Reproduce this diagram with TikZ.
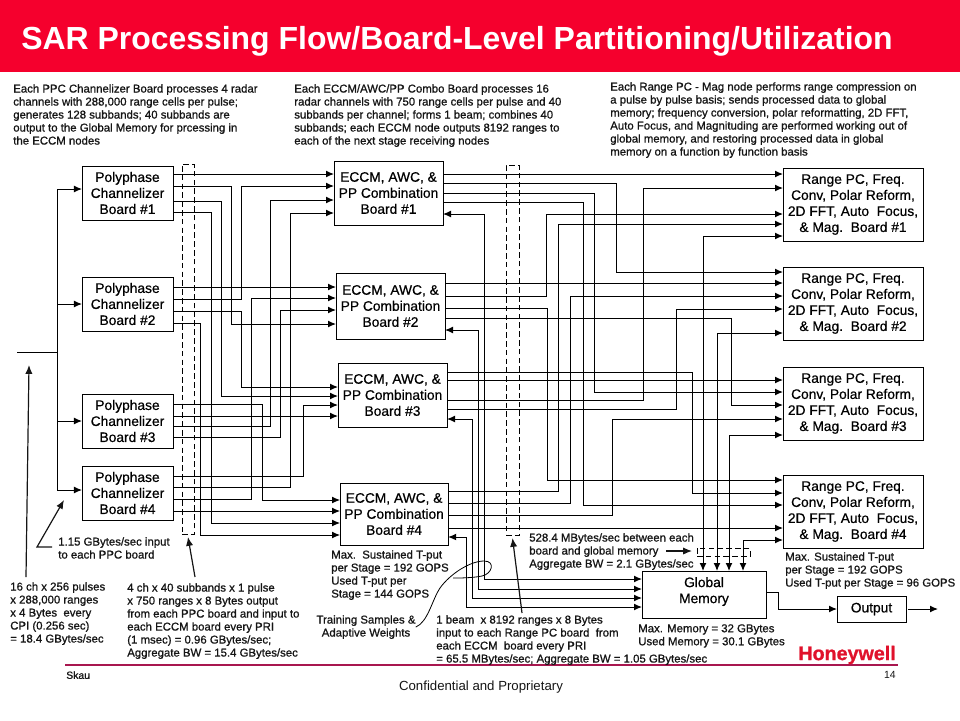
\documentclass[tikz,border=0pt]{standalone}
\usepackage{fontspec}
\usepackage{xcolor}
\usetikzlibrary{arrows.meta,positioning,calc}
\setmainfont{Liberation Sans}
\newfontfamily\heavyfont[FakeBold=0.9]{Liberation Sans}
\newfontfamily\mediumfont[FakeBold=0.5]{Liberation Sans}
\definecolor{ink}{HTML}{000000}
\definecolor{bannerred}{HTML}{F5002D}
\definecolor{rulered}{HTML}{A8174F}
\definecolor{logored}{HTML}{E0112B}
\definecolor{notegray}{HTML}{151515}
\newcommand{\notefont}{\heavyfont\fontsize{8.1}{9.25}\selectfont}
\newcommand{\boxfont}{\mediumfont\fontsize{9.8}{11.4}\selectfont}
\tikzset{
  box/.style={draw=ink, line width=0.25mm, fill=white, align=center, inner sep=0pt, outer sep=0pt, font=\boxfont},
  ppcbox/.style={box, minimum width=22.75mm, minimum height=13.5mm},
  eccmbox/.style={box, minimum width=27.25mm, minimum height=16mm},
  rangebox/.style={box, minimum width=35mm, minimum height=18.25mm},
  busbox/.style={draw=ink, line width=0.2mm, dash pattern=on 1.4mm off 0.8mm, inner sep=0pt, outer sep=0pt},
  notelabel/.style={font=\notefont, text=notegray, align=left, inner sep=0pt, anchor=north west},
  wire/.style={draw=ink, line width=0.25mm},
  arrow/.style={-{Latex[length=2mm,width=1.7mm]}, line width=0.25mm, draw=ink},
  biarrow/.style={{Latex[length=2mm,width=1.7mm]}-{Latex[length=2mm,width=1.7mm]}, line width=0.25mm, draw=ink},
  notearrow/.style={-{Latex[length=2.2mm,width=1.8mm]}, line width=0.3mm, draw=notegray}
}
\begin{document}
\begin{tikzpicture}[x=0.25mm,y=-0.25mm]
\useasboundingbox (0,0) rectangle (960,720);
% banner and footer
\fill[bannerred] (0,0) rectangle (960,72);
\node[anchor=west, inner sep=0pt, text=white, font=\fontsize{22.72}{26}\selectfont\bfseries] (ttl) at (21,41) {SAR Processing Flow/Board-Level Partitioning/Utilization};
\draw[rulered, line width=0.35mm] (65,665) -- (898,665);
\node[anchor=east, inner sep=0pt, text=logored, font=\fontsize{14}{15}\selectfont\heavyfont\bfseries] (logo) at (896,655) {Honeywell};
\node[notelabel, font=\heavyfont\fontsize{7.4}{9}\selectfont] (skau) at (66,671) {Skau};
\node[notelabel, anchor=north east, font=\fontsize{7.4}{9}\selectfont] (pageno) at (896,671) {14};
\node[inner sep=0pt, font=\fontsize{9.4}{10}\selectfont, text=notegray] (conf) at (481,687) {Confidential and Proprietary};
% notes along the top
\node[notelabel] (ppcnote) at (13,84) {Each PPC Channelizer Board processes 4 radar\\channels with 288,000 range cells per pulse;\\generates 128 subbands; 40 subbands are\\output to the Global  Memory for prcessing in\\the ECCM nodes};
\node[notelabel] (eccmnote) at (294,84) {Each ECCM/AWC/PP Combo Board processes 16\\radar channels with 750 range cells per pulse and 40\\subbands per channel; forms 1 beam; combines 40\\subbands; each ECCM node outputs 8192 ranges to\\each of the next stage receiving nodes};
\node[notelabel] (rangenote) at (610,82) {Each Range PC - Mag node performs range compression on\\a pulse by pulse basis; sends processed data to global\\memory; frequency conversion, polar reformatting, 2D FFT,\\Auto Focus, and Magnituding are performed working out of\\global memory, and restoring processed data in global\\memory on a function by function basis};
% boards
\node[ppcbox] (ppc1) at (127.5,193) {Polyphase\\Channelizer\\Board \#1};
\node[ppcbox, below=14.25mm of ppc1] (ppc2) {Polyphase\\Channelizer\\Board \#2};
\node[ppcbox, below=15.75mm of ppc2] (ppc3) {Polyphase\\Channelizer\\Board \#3};
\node[ppcbox, below=4.5mm of ppc3] (ppc4) {Polyphase\\Channelizer\\Board \#4};
\node[eccmbox] (eccm1) at (388.5,193) {ECCM, AWC, \&\\PP Combination\\Board \#1};
\node[eccmbox, below=12mm of eccm1, xshift=0.5mm, minimum height=16.5mm] (eccm2) {ECCM, AWC, \&\\PP Combination\\Board \#2};
\node[eccmbox, below=6mm of eccm2, xshift=0.5mm] (eccm3) {ECCM, AWC, \&\\PP Combination\\Board \#3};
\node[eccmbox, below=14mm of eccm3, xshift=0.4mm, minimum width=27mm, minimum height=15.5mm] (eccm4) {ECCM, AWC, \&\\PP Combination\\Board \#4};
\node[rangebox] (range1) at (853,204.5) {Range PC, Freq.\\Conv, Polar Reform,\\2D FFT, Auto\ \ Focus,\\\& Mag.\ \ Board \#1};
\node[rangebox, below=6.5mm of range1] (range2) {Range PC, Freq.\\Conv, Polar Reform,\\2D FFT, Auto\ \ Focus,\\\& Mag.\ \ Board \#2};
\node[rangebox, below=6.75mm of range2] (range3) {Range PC, Freq.\\Conv, Polar Reform,\\2D FFT, Auto\ \ Focus,\\\& Mag.\ \ Board \#3};
\node[rangebox, below=8.75mm of range3] (range4) {Range PC, Freq.\\Conv, Polar Reform,\\2D FFT, Auto\ \ Focus,\\\& Mag.\ \ Board \#4};
\node[box, minimum width=31mm, minimum height=11.75mm, text depth=2.2mm] (global) at (704,594.5) {Global\\Memory};
\node[box, minimum width=17.25mm, minimum height=6.5mm] (output) at (871.5,609) {Output};
% dashed bus outlines
\node[busbox, minimum width=3mm, minimum height=92.5mm] (bus1) at (188,349) {};
\node[busbox, minimum width=3.25mm, minimum height=92.5mm] (bus2) at (512.5,350) {};
\node[busbox, minimum width=13.25mm, minimum height=2mm] (bus3) at (723.5,552) {};
% input feed
\coordinate (inp) at (17,352);
\coordinate (split) at (57,352);
\draw[wire] (inp) -- (split);
\foreach \dst/\y in {ppc1/189,ppc2/304,ppc3/421,ppc4/490}
  \draw[arrow] (split) |- (\dst.west |- 0,\y);
% straight runs
\foreach \src/\dst/\y in {ppc1/eccm1/174,ppc2/eccm2/287,ppc3/eccm3/416,ppc4/eccm4/511,
    eccm1/range1/174,eccm2/range2/283,eccm3/range3/380,eccm4/range4/528}
  \draw[arrow] (\src.east |- 0,\y) -- (\dst.west |- 0,\y);
% crossing runs, board to board
\foreach \src/\ya/\vx/\dst/\yb in {ppc1/186/231/eccm2/324,ppc1/201/221/eccm3/396,ppc1/212/211/eccm4/523,
    ppc2/299/241/eccm1/186,ppc2/311/241/eccm3/387,ppc2/323/200/eccm4/535,
    ppc3/404/262/eccm4/500,ppc3/426/270/eccm1/200,ppc3/437/280/eccm2/310,
    ppc4/476/303/eccm3/405,ppc4/487/290/eccm1/213,ppc4/499/251/eccm2/298,
    eccm1/183/616/range2/272,eccm1/193/594/range3/392,eccm1/202/583/range4/505,
    eccm2/296/546/range1/214,eccm2/308/547/range4/480,eccm2/318/731/range3/405,
    eccm3/372/692/range4/493,eccm3/400/643/range1/188,eccm3/409/676/range2/309,
    eccm4/491/558/range1/224,eccm4/503/570/range2/296,eccm4/515/612/range3/419}
  \draw[arrow] (\src.east |- 0,\ya) -- (\vx,\ya) -- (\vx,\yb) -- (\dst.west |- 0,\yb);
% global memory links
\foreach \dst/\yb/\vx/\ym in {eccm1/214/484/579,eccm2/330/478/589,eccm3/419/472/598,eccm4/537/466/607}
  \draw[biarrow] (global.west |- 0,\ym) -- (\vx,\ym) -- (\vx,\yb) -- (\dst.east |- 0,\yb);
\foreach \dst/\vx/\yb in {range1/703/236,range2/717/333,range3/729/435,range4/743/540}
  \draw[biarrow] (global.north -| \vx,0) -- (\vx,\yb) -- (\dst.west |- 0,\yb);
\coordinate (gout) at (778,592);
\draw[arrow] (global.east |- gout) -- (gout) |- (output.west);
\coordinate (outend) at (938,609);
\draw[arrow] ([xshift=0.5mm]output.east) -- (outend);
% notes round the flow
\node[notelabel] (ratenote) at (58,537) {1.15 GBytes/sec input\\to each PPC board};
\node[notelabel] (radarnote) at (10,582) {16 ch x 256 pulses\\x 288,000 ranges\\x 4 Bytes\ \ every\\CPI (0.256 sec)\\= 18.4 GBytes/sec};
\node[notelabel] (pulsenote) at (127,583) {4 ch x 40 subbands x 1 pulse\\x 750 ranges x 8 Bytes output\\from each PPC board and input to\\each ECCM board every PRI\\(1 msec) = 0.96 GBytes/sec;\\Aggregate BW = 15.4 GBytes/sec};
\node[notelabel] (eccmput) at (331,550) {Max.\ \ Sustained T-put\\per Stage = 192 GOPS\\Used T-put per\\Stage = 144 GOPS};
\node[notelabel, align=center, anchor=north] (train) at (366,615) {Training Samples \&\\Adaptive Weights};
\node[notelabel] (beamnote) at (436,615) {1 beam\ \ x 8192 ranges x 8 Bytes\\input to each Range PC board\ \ from\\each ECCM\ \ board every PRI\\= 65.5 MBytes/sec; Aggregate BW = 1.05 GBytes/sec};
\node[notelabel] (memnote) at (529,533) {528.4 MBytes/sec between each\\board and global memory\\Aggregate BW = 2.1 GBytes/sec};
\node[notelabel] (rangeput) at (785,552) {Max. Sustained T-put\\per Stage = 192 GOPS\\Used T-put per Stage = 96 GOPS};
\node[notelabel] (memsize) at (638,624) {Max. Memory = 32 GBytes\\Used Memory = 30.1 GBytes};
% note pointers
\coordinate (radartip) at (29,365);
\coordinate (radarfoot) at (26,577);
\draw[notearrow] (radarfoot) -- (radartip);
\coordinate (ratebend) at (37,547);
\coordinate (ratefoot) at (52,547);
\coordinate (ratetip) at (64,500);
\draw[notearrow] (ratefoot) -- (ratebend) -- (ratetip);
\coordinate (pulsefoot) at (195,577);
\draw[notearrow] (pulsefoot) -- ([yshift=-0.75mm]bus1.south);
\coordinate (beamfoot) at (522,613);
\draw[notearrow] (beamfoot) -- ([yshift=-0.75mm]bus2.south);
\coordinate (memfoot) at (666,551);
\coordinate (memtip) at (692,551);
\draw[notearrow] (memfoot) -- (memtip);
\draw[line width=0.2mm, draw=ink] (train.east) .. controls (428,622) and (432,600) .. (440,588) .. controls (450,574) and (470,561) .. (484,561) .. controls (496,561) and (492,574) .. (482,576) .. controls (472,578) and (460,578) .. (453,578);
\end{tikzpicture}
\end{document}
